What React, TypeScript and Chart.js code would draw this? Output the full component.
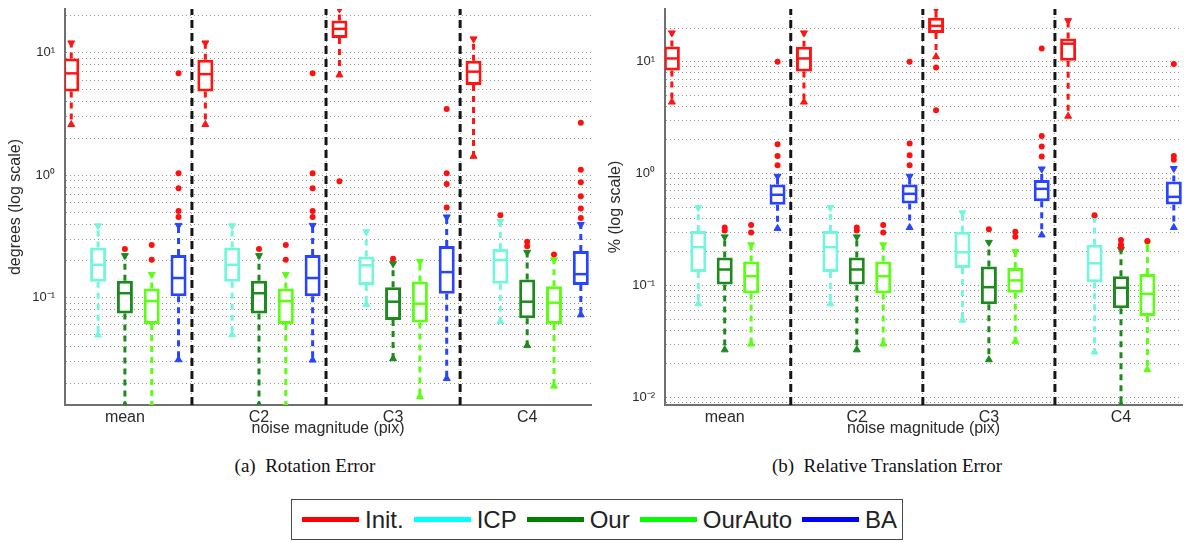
import React, { useEffect, useRef } from 'react';
import { Chart, registerables } from 'chart.js';

Chart.register(...registerables);

// ---------- categories / series ----------
const GROUPS = ['mean', 'C2', 'C3', 'C4'];
const SERIES = ['Init.', 'ICP', 'Our', 'OurAuto', 'BA'];
const BOX_COLORS = ['#ff1414', '#72f7dc', '#1c8a1c', '#5cff14', '#2844ff'];
const LEGEND_COLORS = ['#ff0000', '#00ffff', '#008000', '#00ff00', '#0000ff'];
const OUTLIER_COLOR = '#ff1010';
const SEPARATORS = [0.5, 1.5, 2.5];

// ---------- (a) Rotation Error, degrees ----------
// rows: Init., ICP, Our, OurAuto, BA ; columns: mean, C2, C3, C4
const ROT_LO = [
  [2.6, 2.6, 6.6, 1.43],
  [0.0497, 0.05, 0.0884, 0.064],
  [0.0133, 0.0133, 0.0318, 0.0407],
  [0.0133, 0.0133, 0.0156, 0.019],
  [0.0312, 0.031, 0.0219, 0.0725],
];
const ROT_Q1 = [
  [4.84, 4.84, 13.2, 5.47],
  [0.135, 0.135, 0.127, 0.13],
  [0.0743, 0.0743, 0.0657, 0.068],
  [0.061, 0.061, 0.0628, 0.061],
  [0.103, 0.103, 0.108, 0.127],
];
const ROT_MED = [
  [6.8, 6.7, 15.7, 7.02],
  [0.186, 0.186, 0.184, 0.204],
  [0.109, 0.109, 0.0929, 0.0929],
  [0.094, 0.094, 0.0895, 0.0912],
  [0.145, 0.145, 0.162, 0.156],
];
const ROT_Q3 = [
  [9.0, 8.8, 18.4, 8.61],
  [0.257, 0.257, 0.217, 0.25],
  [0.138, 0.138, 0.122, 0.141],
  [0.119, 0.119, 0.136, 0.124],
  [0.224, 0.224, 0.265, 0.241],
];
const ROT_HI = [
  [12.05, 12.05, 22.8, 13.0],
  [0.387, 0.387, 0.346, 0.42],
  [0.221, 0.221, 0.19, 0.235],
  [0.155, 0.155, 0.198, 0.204],
  [0.39, 0.39, 0.457, 0.396],
];
const ROT_OUT = [
  [[], [], [0.894], []],
  [[], [], [], [0.472]],
  [[0.25], [0.25], [0.208], [0.287, 0.263]],
  [[0.27, 0.204], [0.27, 0.204], [], [0.226]],
  [[6.8, 1.04, 0.785, 0.51, 0.457], [6.8, 1.04, 0.785, 0.51, 0.457], [3.48, 1.04, 0.851, 0.545], [2.68, 1.11, 0.877, 0.676, 0.535, 0.449]],
];
const ROT_Y_TICKS = [
  0.02, 0.03, 0.04, 0.05, 0.06, 0.07, 0.08, 0.09,
  0.1, 0.2, 0.3, 0.4, 0.5, 0.6, 0.7, 0.8, 0.9,
  1, 2, 3, 4, 5, 6, 7, 8, 9, 10, 20,
];

// ---------- (b) Relative Translation Error, % ----------
const TRA_LO = [
  [4.36, 4.36, 11.1, 3.26],
  [0.0687, 0.0687, 0.049, 0.0254],
  [0.0266, 0.0266, 0.0217, 0.0086],
  [0.03, 0.03, 0.0317, 0.0177],
  [0.324, 0.33, 0.283, 0.33],
];
const TRA_Q1 = [
  [8.33, 8.16, 18.1, 10.2],
  [0.132, 0.132, 0.143, 0.107],
  [0.102, 0.102, 0.068, 0.0625],
  [0.085, 0.085, 0.086, 0.0535],
  [0.528, 0.54, 0.565, 0.53],
];
const TRA_MED = [
  [10.7, 10.7, 20.9, 14.5],
  [0.22, 0.22, 0.198, 0.158],
  [0.139, 0.139, 0.0966, 0.0953],
  [0.121, 0.121, 0.111, 0.0843],
  [0.647, 0.66, 0.731, 0.62],
];
const TRA_Q3 = [
  [13.7, 13.6, 24.7, 16.1],
  [0.307, 0.307, 0.303, 0.231],
  [0.178, 0.178, 0.148, 0.121],
  [0.164, 0.164, 0.143, 0.127],
  [0.8, 0.8, 0.877, 0.85],
];
const TRA_HI = [
  [18.1, 18.1, 29.6, 23.3],
  [0.497, 0.497, 0.446, 0.4],
  [0.272, 0.272, 0.243, 0.21],
  [0.231, 0.231, 0.201, 0.24],
  [0.946, 0.946, 1.1, 1.11],
];
const TRA_OUT = [
  [[], [], [8.9, 3.68], []],
  [[], [], [], [0.425]],
  [[0.33, 0.31], [0.33, 0.31], [0.319], [0.255, 0.233, 0.22]],
  [[0.347, 0.298], [0.347, 0.298], [0.303, 0.273], [0.25]],
  [[10.0, 1.83, 1.44, 1.19], [10.0, 1.86, 1.46, 1.19], [13.1, 2.17, 1.75, 1.42], [9.53, 1.44, 1.33]],
];
const TRA_Y_TICKS = [
  0.009,
  0.01, 0.02, 0.03, 0.04, 0.05, 0.06, 0.07, 0.08, 0.09,
  0.1, 0.2, 0.3, 0.4, 0.5, 0.6, 0.7, 0.8, 0.9,
  1, 2, 3, 4, 5, 6, 7, 8, 9, 10, 20,
];

// ---------- helpers ----------
const SUP: Record<string, string> = { '-': '\u207B', '0': '\u2070', '1': '\u00B9', '2': '\u00B2', '3': '\u00B3' };
function logLabel(v: number): string {
  const e = Math.log10(v);
  const r = Math.round(e);
  if (Math.abs(e - r) > 1e-6) return '';
  return '10' + String(r).split('').map((c) => SUP[c] || c).join('');
}

const SANS = '"Liberation Sans", Arial, Helvetica, sans-serif';

interface PanelCfg {
  lo: number[][]; q1: number[][]; med: number[][]; q3: number[][]; hi: number[][];
  out: number[][][]; yTicks: number[];
  yMin: number; yMax: number; xMin: number; xMax: number;
  yTitle: string; padRight: number;
}

function buildConfig(p: PanelCfg): any {
  const datasets: any[] = [];
  const sep: any[] = [];
  SEPARATORS.forEach((x) => {
    sep.push({ x, y: p.yMin }, { x, y: p.yMax }, { x, y: null });
  });
  datasets.push({
    type: 'line', data: sep, borderColor: '#151515', borderWidth: 3, borderDash: [8, 5],
    pointRadius: 0, spanGaps: false, order: 7, clip: 0,
  });
  SERIES.forEach((name, si) => {
    const color = BOX_COLORS[si];
    const off = (si - 2) * 0.2;
    const xs = GROUPS.map((_, g) => g + off);
    const whisk: any[] = [];
    xs.forEach((x, g) => {
      whisk.push({ x, y: p.q3[si][g] }, { x, y: p.hi[si][g] }, { x, y: null });
      whisk.push({ x, y: p.q1[si][g] }, { x, y: p.lo[si][g] }, { x, y: null });
    });
    datasets.push({
      type: 'line', label: name, data: whisk, borderColor: color, borderWidth: 3, borderDash: [6, 5],
      pointRadius: 0, spanGaps: false, order: 6, clip: 0,
    });
    datasets.push({
      type: 'scatter', data: xs.map((x, g) => ({ x, y: p.hi[si][g] })),
      pointStyle: 'triangle', pointRotation: 180, pointRadius: 4,
      pointBackgroundColor: color, pointBorderColor: color, pointBorderWidth: 1, order: 5, clip: 0,
    });
    datasets.push({
      type: 'scatter', data: xs.map((x, g) => ({ x, y: p.lo[si][g] })),
      pointStyle: 'triangle', pointRotation: 0, pointRadius: 4,
      pointBackgroundColor: color, pointBorderColor: color, pointBorderWidth: 1, order: 5, clip: 0,
    });
    datasets.push({
      type: 'bar', data: xs.map((x, g) => ({ x, y: [p.q1[si][g], p.q3[si][g]] })),
      backgroundColor: '#ffffff', borderColor: color, borderWidth: 3, borderSkipped: false,
      grouped: false, maxBarThickness: 16, order: 4, clip: 0,
    });
    datasets.push({
      type: 'scatter', data: xs.map((x, g) => ({ x, y: p.med[si][g] })),
      pointStyle: 'line', pointRadius: 6.5, pointBorderColor: color, pointBorderWidth: 2.5,
      order: 3, clip: 0,
    });
    const outs: any[] = [];
    xs.forEach((x, g) => p.out[si][g].forEach((v) => outs.push({ x, y: v })));
    datasets.push({
      type: 'scatter', data: outs, pointStyle: 'circle', pointRadius: 3,
      pointBackgroundColor: OUTLIER_COLOR, pointBorderColor: OUTLIER_COLOR, pointBorderWidth: 0,
      order: 1, clip: 0,
    });
  });

  const gridColor = 'rgba(60,60,60,0.55)';
  return {
    type: 'bar',
    data: { datasets },
    options: {
      responsive: false,
      animation: false,
      events: [],
      devicePixelRatio: 1,
      layout: { padding: { top: 5, left: 0, right: p.padRight, bottom: 0 } },
      plugins: { legend: { display: false }, tooltip: { enabled: false } },
      scales: {
        x: {
          type: 'linear', min: p.xMin, max: p.xMax, offset: false,
          afterBuildTicks: (s: any) => { s.ticks = GROUPS.map((_, i) => ({ value: i })); },
          afterFit: (s: any) => { s.height = 40; s.paddingLeft = 0; s.paddingRight = 0; },
          ticks: {
            autoSkip: false, maxRotation: 0, padding: 3, color: '#2a2a2a',
            font: { family: SANS, size: 16 },
            callback: (_v: any, i: number) => GROUPS[i],
          },
          grid: { color: gridColor, lineWidth: 1, drawTicks: false },
          border: { display: true, color: '#707070', width: 2, dash: [1, 3] },
          title: {
            display: true, text: 'noise magnitude (pix)', color: '#2a2a2a',
            font: { family: SANS, size: 16 }, padding: { top: 0, bottom: 7 },
          },
        },
        y: {
          type: 'logarithmic', min: p.yMin, max: p.yMax,
          afterBuildTicks: (s: any) => { s.ticks = p.yTicks.map((v) => ({ value: v })); },
          afterFit: (s: any) => { s.width = 65; s.paddingTop = 0; s.paddingBottom = 0; },
          ticks: {
            autoSkip: false, padding: 10, color: '#2a2a2a',
            font: { family: SANS, size: 13 },
            callback: (v: any) => logLabel(Number(v)),
          },
          grid: { color: gridColor, lineWidth: 1, drawTicks: false },
          border: { display: true, color: '#707070', width: 2, dash: [1, 3] },
          title: {
            display: true, text: p.yTitle, color: '#2a2a2a',
            font: { family: SANS, size: 16 }, padding: { top: 6, bottom: 0 },
          },
        },
      },
    },
  };
}

const ROT_PANEL: PanelCfg = {
  lo: ROT_LO, q1: ROT_Q1, med: ROT_MED, q3: ROT_Q3, hi: ROT_HI, out: ROT_OUT, yTicks: ROT_Y_TICKS,
  yMin: 0.01332, yMax: 22.8, xMin: -0.4467, xMax: 3.476, yTitle: 'degrees (log scale)', padRight: 8,
};
const TRA_PANEL: PanelCfg = {
  lo: TRA_LO, q1: TRA_Q1, med: TRA_MED, q3: TRA_Q3, hi: TRA_HI, out: TRA_OUT, yTicks: TRA_Y_TICKS,
  yMin: 0.00855, yMax: 29.6, xMin: -0.452, xMax: 3.462, yTitle: '% (log scale)', padRight: 0,
};

function Panel({ cfg, left, width }: { cfg: PanelCfg; left: number; width: number }) {
  const ref = useRef<HTMLCanvasElement>(null);
  useEffect(() => {
    const chart = new Chart(ref.current as HTMLCanvasElement, buildConfig(cfg));
    return () => chart.destroy();
  }, [cfg]);
  return (
    <canvas
      ref={ref}
      width={width}
      height={445}
      style={{ position: 'absolute', left, top: 0, width, height: 445, display: 'block' }}
    />
  );
}

export default function App() {
  const caption: React.CSSProperties = {
    position: 'absolute', top: 455, height: 22, lineHeight: '22px', textAlign: 'center',
    fontFamily: '"Liberation Serif", "Times New Roman", serif', fontSize: 19, color: '#111',
    whiteSpace: 'pre',
  };
  return (
    <div style={{ position: 'absolute', left: 0, top: 0, width: 1191, height: 542, background: '#fff', overflow: 'hidden' }}>
      <Panel cfg={ROT_PANEL} left={0} width={600} />
      <Panel cfg={TRA_PANEL} left={600} width={591} />
      <div style={{ ...caption, left: 5, width: 600 }}>{'(a)  Rotation Error'}</div>
      <div style={{ ...caption, left: 587, width: 600 }}>{'(b)  Relative Translation Error'}</div>
      <div
        style={{
          position: 'absolute', left: 291, top: 499, width: 612, height: 41, boxSizing: 'border-box',
          border: '1.5px solid #4a4a4a', display: 'flex', alignItems: 'center', paddingLeft: 10,
          fontFamily: SANS, fontSize: 24, color: '#222', whiteSpace: 'nowrap',
        }}
      >
        {SERIES.map((s, i) => (
          <React.Fragment key={s}>
            <span style={{ display: 'inline-block', width: 57, height: 5, background: LEGEND_COLORS[i], marginLeft: i ? 10 : 0 }} />
            <span style={{ marginLeft: 6 }}>{s}</span>
          </React.Fragment>
        ))}
      </div>
    </div>
  );
}
